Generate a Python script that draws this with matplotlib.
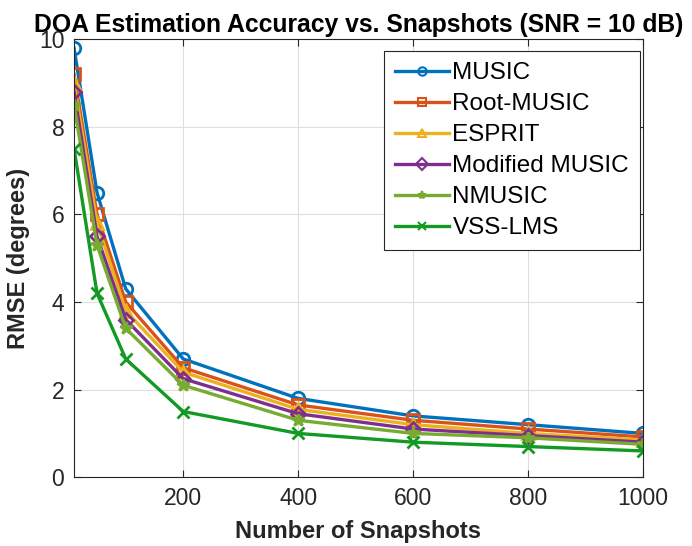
import matplotlib.pyplot as plt
import numpy as np

plt.rcParams['font.family'] = ['Liberation Sans', 'DejaVu Sans']

# snapshots
x = [10, 50, 100, 200, 400, 600, 800, 1000]

music = [9.8, 6.5, 4.3, 2.7, 1.8, 1.4, 1.2, 1.0]
root_music = [9.2, 6.0, 4.0, 2.5, 1.65, 1.3, 1.1, 0.92]
esprit = [9.0, 5.8, 3.8, 2.4, 1.55, 1.2, 1.0, 0.85]
mod_music = [8.8, 5.5, 3.6, 2.25, 1.45, 1.1, 0.95, 0.8]
nmusic = [8.5, 5.3, 3.4, 2.1, 1.3, 1.0, 0.9, 0.75]
vss_lms = [7.5, 4.2, 2.7, 1.5, 1.0, 0.8, 0.7, 0.6]

labels = ['MUSIC', 'Root-MUSIC', 'ESPRIT', 'Modified MUSIC', 'NMUSIC', 'VSS-LMS']
colors = ['#0072BD', '#D95319', '#EDB120', '#7E2F8E', '#77AC30', '#129A22']
markers = ['o', 's', '^', 'D', '*', 'x']
msizes = [9, 8, 9, 7, 9, 8]

fig = plt.figure(figsize=(6.92, 5.46), dpi=100)
ax = fig.add_axes([0.107, 0.126, 0.822, 0.802])

for i, y in enumerate([music, root_music, esprit, mod_music, nmusic, vss_lms]):
    ax.plot(x, y, color=colors[i], marker=markers[i], markersize=msizes[i],
            markerfacecolor='none' if markers[i] not in ('*', 'x') else colors[i],
            markeredgewidth=2, linewidth=2.4, label=labels[i])

ax.set_xlim(10, 1000)
ax.set_ylim(0, 10)
ax.set_xticks(np.arange(200, 1001, 200))
ax.set_yticks(np.arange(0, 11, 2))

ax.tick_params(direction='in', top=True, right=True, labelsize=16.5,
               colors='#262626', length=5, width=0.8, pad=7)
for s in ax.spines.values():
    s.set_color('#262626')
    s.set_linewidth(0.8)

ax.grid(True, color='#dedede', linewidth=0.8)
ax.set_axisbelow(True)

ax.set_xlabel('Number of Snapshots', fontsize=17, fontweight='bold', color='#262626', labelpad=7)
ax.set_ylabel('RMSE (degrees)', fontsize=17, fontweight='bold', color='#262626', labelpad=6)
ax.set_title('DOA Estimation Accuracy vs. Snapshots (SNR = 10 dB)', fontsize=17.8,
             fontweight='bold', color='black', pad=5)

leg = ax.legend(loc='upper right', bbox_to_anchor=(0.995, 0.973), fontsize=17.5,
                fancybox=False, framealpha=1, edgecolor='#262626', borderpad=0.45,
                labelspacing=0.37, handlelength=2.2, handletextpad=0.15, borderaxespad=0)
leg.get_frame().set_linewidth(0.8)
for h in leg.legend_handles:
    h.set_markersize(6)
    h.set_markeredgewidth(1.5)

plt.savefig('out.png', dpi=100)
